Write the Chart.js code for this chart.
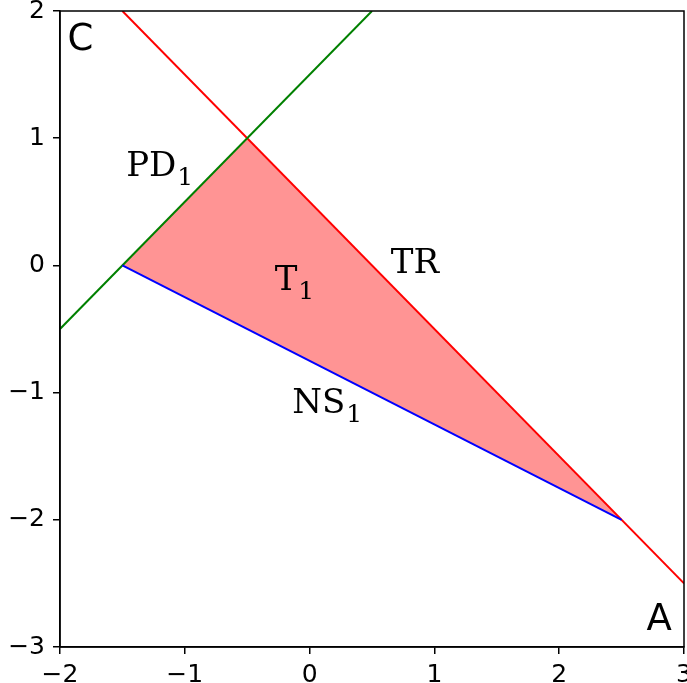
<!DOCTYPE html>
<html>
<head>
<meta charset="utf-8">
<script src="https://cdn.jsdelivr.net/npm/chart.js@4/dist/chart.umd.min.js"></script>
<style>
  html, body { margin: 0; padding: 0; background: #fff; }
  #wrap { width: 687px; height: 683px; }
</style>
</head>
<body>
<div id="wrap"><canvas id="chart" width="687" height="683"></canvas></div>
<script>
// axis ticks
const xTicks = [-2, -1, 0, 1, 2, 3]
const yTicks = [-3, -2, -1, 0, 1, 2]

// boundary lines (endpoints in data units)
const trLine = [[-1.5, 2], [3, -2.5]]
const pdLine = [[-2, -0.5], [0.5, 2]]
const nsLine = [[-1.5, 0], [2.5, -2]]

// shaded region T1
const regionT1 = [[-1.5, 0], [-0.5, 1], [2.5, -2], [-1.5, 0]]

// region / line labels
const labelMain = ['PD', 'T', 'TR', 'NS']
const labelSub = ['1', '1', '', '1']
const labelX = [-1.47, -0.28, 0.65, -0.14]
const labelY = [0.7, -0.19, -0.06, -1.16]

// corner labels
const cornerText = ['C', 'A']
const cornerX = [-1.94, 2.7]
const cornerY = [1.69, -2.87]

const toPts = arr => arr.map(p => ({x: p[0], y: p[1]}))
const minus = v => v < 0 ? '\u2212' + Math.abs(v) : String(v)

const textPlugin = {
    id: 'texts',
    afterDatasetsDraw(chart) {
        const ctx = chart.ctx
        const xs = chart.scales.x, ys = chart.scales.y
        ctx.save()
        ctx.fillStyle = '#000'
        ctx.textBaseline = 'alphabetic'
        ctx.textAlign = 'left'
        labelMain.forEach((t, i) => {
            const px = xs.getPixelForValue(labelX[i])
            const py = ys.getPixelForValue(labelY[i])
            ctx.font = '34px "DejaVu Serif"'
            ctx.fillText(t, px, py)
            const w = ctx.measureText(t).width
            if (labelSub[i]) {
                ctx.font = '25px "DejaVu Serif"'
                ctx.fillText(labelSub[i], px + w + 1, py + 9)
            }
        })
        ctx.font = '37px "DejaVu Sans"'
        cornerText.forEach((t, i) => {
            ctx.fillText(t, xs.getPixelForValue(cornerX[i]), ys.getPixelForValue(cornerY[i]))
        })
        // frame around plot area
        const a = chart.chartArea
        ctx.strokeStyle = '#000'
        ctx.lineWidth = 1.5
        ctx.strokeRect(a.left, a.top, a.right - a.left, a.bottom - a.top)
        ctx.restore()
    }
}

const lineDs = (pts, color) => ({
    data: toPts(pts),
    showLine: true,
    borderColor: color,
    borderWidth: 2,
    pointRadius: 0,
    fill: false
})

new Chart(document.getElementById('chart'), {
    type: 'scatter',
    data: {
        datasets: [
            lineDs(nsLine, '#0000ff'),
            lineDs(pdLine, '#008000'),
            lineDs(trLine, '#ff0000'),
            {
                data: toPts(regionT1),
                showLine: true,
                borderWidth: 0,
                borderColor: 'rgba(0,0,0,0)',
                backgroundColor: 'rgba(255,0,0,0.42)',
                pointRadius: 0,
                fill: 'shape'
            }
        ]
    },
    plugins: [textPlugin],
    options: {
        responsive: false,
        animation: false,
        devicePixelRatio: 1,
        layout: {padding: {left: 0, top: 11, right: 3, bottom: 0}},
        plugins: {legend: {display: false}, tooltip: {enabled: false}},
        scales: {
            x: {
                type: 'linear', min: -2, max: 3,
                afterBuildTicks: s => { s.ticks = xTicks.map(v => ({value: v})) },
                afterFit: s => { s.height = 36; s.paddingLeft = 0; s.paddingRight = 0 },
                grid: {drawOnChartArea: false, drawTicks: true, tickLength: 7, color: '#000', lineWidth: 1.5},
                border: {display: true, color: '#000', width: 1.5},
                ticks: {color: '#000', padding: 6, font: {family: 'DejaVu Sans', size: 25},
                        maxRotation: 0, autoSkip: false, callback: v => minus(v)}
            },
            y: {
                type: 'linear', min: -3, max: 2,
                afterBuildTicks: s => { s.ticks = yTicks.map(v => ({value: v})) },
                afterFit: s => { s.width = 60; s.paddingTop = 0; s.paddingBottom = 0 },
                grid: {drawOnChartArea: false, drawTicks: true, tickLength: 7, color: '#000', lineWidth: 1.5},
                border: {display: true, color: '#000', width: 1.5},
                ticks: {color: '#000', padding: 8, font: {family: 'DejaVu Sans', size: 25},
                        autoSkip: false, callback: v => minus(v)}
            }
        }
    }
})
</script>
</body>
</html>
